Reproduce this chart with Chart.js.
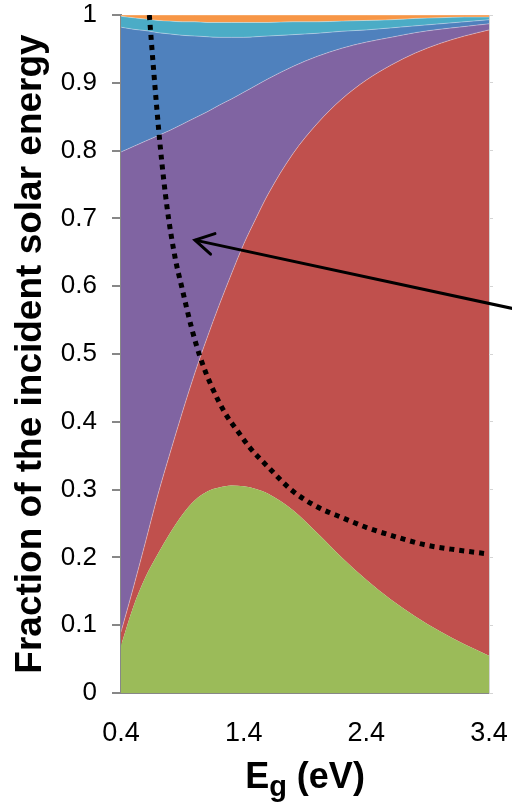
<!DOCTYPE html>
<html><head><meta charset="utf-8">
<script src="https://cdn.jsdelivr.net/npm/chart.js@4/dist/chart.umd.min.js"></script>
<style>html,body{margin:0;padding:0;background:#fff}</style>
</head><body>
<canvas id="c" width="512" height="803"></canvas>
<script>
// ---- data ----
const energies   = [0.4,0.5,0.6,0.7,0.8,0.9,1.0,1.1,1.2,1.3,1.4,1.5,1.6,1.8,2.0,2.2,2.4,2.6,2.8,3.0,3.2,3.4];
const greenPart  = [0.070,0.127,0.171,0.205,0.236,0.263,0.284,0.297,0.303,0.306,0.305,0.301,0.294,0.270,0.236,0.200,0.167,0.138,0.113,0.091,0.072,0.055];
const redPart    = [0.020,0.028,0.052,0.087,0.118,0.151,0.187,0.226,0.269,0.312,0.357,0.399,0.442,0.525,0.604,0.676,0.737,0.788,0.831,0.867,0.897,0.923];
const purplePart = [0.708,0.651,0.591,0.530,0.476,0.425,0.377,0.334,0.295,0.258,0.224,0.196,0.170,0.129,0.099,0.075,0.056,0.041,0.030,0.021,0.014,0.009];
const bluePart   = [0.184,0.173,0.163,0.152,0.142,0.131,0.121,0.111,0.100,0.091,0.081,0.072,0.063,0.047,0.034,0.025,0.018,0.014,0.010,0.008,0.007,0.006];
const cyanPart   = [0.016,0.017,0.017,0.018,0.019,0.020,0.021,0.021,0.022,0.022,0.022,0.021,0.020,0.019,0.017,0.015,0.014,0.012,0.011,0.009,0.007,0.004];
const orangePart = [0.002,0.004,0.006,0.008,0.009,0.010,0.010,0.011,0.011,0.011,0.011,0.011,0.011,0.010,0.010,0.009,0.008,0.007,0.005,0.004,0.003,0.003];

const dottedX = [0.631,0.665,0.720,0.775,0.840,0.895,0.976,1.044,1.139,1.248,1.356,1.450,1.601,1.792,1.995,2.212,2.403,2.647,2.892,3.137,3.400];
const dottedY = [1.000,0.921,0.806,0.717,0.643,0.599,0.538,0.496,0.452,0.413,0.385,0.362,0.333,0.299,0.275,0.258,0.244,0.230,0.218,0.211,0.205];

const arrowX = [3.62, 1.003];
const arrowY = [0.566, 0.668];

const xTicks = [0.4, 1.4, 2.4, 3.4];
const yTicks = [0,0.1,0.2,0.3,0.4,0.5,0.6,0.7,0.8,0.9,1];

const yTitle = 'Fraction of the incident solar energy';

// ---- build ----
const pts = (xs, ys) => xs.map((x, i) => ({x, y: ys[i]}));
const FONT = 'Liberation Sans';
const edge = 'rgba(255,255,255,0.35)';

function area(data, color, first, bw) {
  return {
    data: pts(energies, data), backgroundColor: color, borderColor: edge,
    borderWidth: bw, fill: first ? 'origin' : '-1', pointRadius: 0,
    cubicInterpolationMode: 'monotone', stack: 'loss'
  };
}
function noPad(s) { s.paddingTop = 0; s.paddingBottom = 0; s.paddingLeft = 0; s.paddingRight = 0; }

const arrowHead = {
  id: 'arrowHead',
  afterDatasetsDraw(chart) {
    const p = chart.getDatasetMeta(7).data;
    if (!p || p.length < 2) return;
    const tail = p[0], tip = p[1];
    const ang = Math.atan2(tail.y - tip.y, tail.x - tip.x);
    const ctx = chart.ctx, L = 21, a = Math.PI / 6;
    ctx.save();
    ctx.strokeStyle = '#000'; ctx.lineWidth = 3; ctx.lineCap = 'round';
    ctx.beginPath();
    ctx.moveTo(tip.x + L * Math.cos(ang - a), tip.y + L * Math.sin(ang - a));
    ctx.lineTo(tip.x, tip.y);
    ctx.lineTo(tip.x + L * Math.cos(ang + a), tip.y + L * Math.sin(ang + a));
    ctx.stroke();
    ctx.restore();
  }
};

const xTitle = {
  id: 'xTitle',
  afterDraw(chart) {
    const ctx = chart.ctx, ca = chart.chartArea, sx = chart.scales.x;
    const big = 'bold 36px "' + FONT + '"', small = 'bold 29px "' + FONT + '"';
    ctx.save();
    ctx.fillStyle = '#000'; ctx.textBaseline = 'alphabetic'; ctx.textAlign = 'left';
    ctx.font = big; const wE = ctx.measureText('E').width; const wR = ctx.measureText(' (eV)').width;
    ctx.font = small; const wg = ctx.measureText('g').width;
    const total = wE + wg + wR;
    let x = (ca.left + ca.right) / 2 - total / 2;
    const base = sx.bottom - 15;
    ctx.font = big; ctx.fillText('E', x, base); x += wE;
    ctx.font = small; ctx.fillText('g', x, base + 8); x += wg;
    ctx.font = big; ctx.fillText(' (eV)', x, base);
    ctx.restore();
  }
};

new Chart(document.getElementById('c'), {
  type: 'line',
  data: {
    datasets: [
      area(greenPart,  '#9BBB59', true, 0),
      area(redPart,    '#C0504D', false, 1),
      area(purplePart, '#8064A2', false, 1),
      area(bluePart,   '#4F81BD', false, 1),
      area(cyanPart,   '#4BACC6', false, 1),
      area(orangePart, '#F79646', false, 1),
      { data: pts(dottedX, dottedY), borderColor: '#000', borderWidth: 5, borderDash: [5, 5],
        borderCapStyle: 'butt', fill: false, pointRadius: 0, cubicInterpolationMode: 'monotone',
        stack: 'dots', order: -1 },
      { data: pts(arrowX, arrowY), borderColor: '#000', borderWidth: 3, fill: false,
        pointRadius: 0, stack: 'arrow', order: -2, clip: false }
    ]
  },
  options: {
    responsive: false, devicePixelRatio: 1, animation: false,
    plugins: { legend: { display: false }, tooltip: { enabled: false } },
    layout: { padding: 0 },
    scales: {
      x: {
        type: 'linear', position: 'bottom', min: 0.4, max: 3.4,
        afterBuildTicks: s => { s.ticks = xTicks.map(v => ({ value: v })); },
        afterFit: s => { s.height = 110; noPad(s); },
        ticks: { font: { family: FONT, size: 27 }, color: '#000', padding: 24,
                 maxRotation: 0, autoSkip: false, callback: v => Number(v).toFixed(1) },
        grid: { display: false, drawTicks: false },
        border: { display: true, color: '#878787', width: 2 }
      },
      x2: {
        type: 'linear', position: 'top', min: 0.4, max: 3.4,
        afterFit: s => { s.height = 15; noPad(s); },
        ticks: { display: false },
        grid: { display: false, drawTicks: false },
        border: { display: true, color: '#d4d4d4', width: 1 }
      },
      y: {
        type: 'linear', position: 'left', min: 0, max: 1, stacked: true,
        afterBuildTicks: s => { s.ticks = yTicks.map(v => ({ value: v })); },
        afterFit: s => { s.width = 121; noPad(s); },
        ticks: { font: { family: FONT, size: 26, lineHeight: 1 }, color: '#000', padding: 15,
                 callback: v => String(Number(Number(v).toFixed(1))) },
        grid: { drawOnChartArea: false, drawTicks: true, tickLength: 9, color: '#878787', lineWidth: 2 },
        border: { color: '#878787', width: 2 },
        title: { display: true, text: yTitle, color: '#000', padding: { top: 9, bottom: 0 },
                 font: { family: FONT, size: 37, weight: 'bold' } }
      },
      y2: {
        type: 'linear', position: 'right', min: 0, max: 1,
        afterBuildTicks: s => { s.ticks = yTicks.map(v => ({ value: v })); },
        afterFit: s => { s.width = 23; noPad(s); },
        ticks: { display: false },
        grid: { drawOnChartArea: false, drawTicks: true, tickLength: 4, color: '#d4d4d4', lineWidth: 1 },
        border: { color: '#d4d4d4', width: 1 }
      }
    }
  },
  plugins: [arrowHead, xTitle]
});
</script>
</body></html>
